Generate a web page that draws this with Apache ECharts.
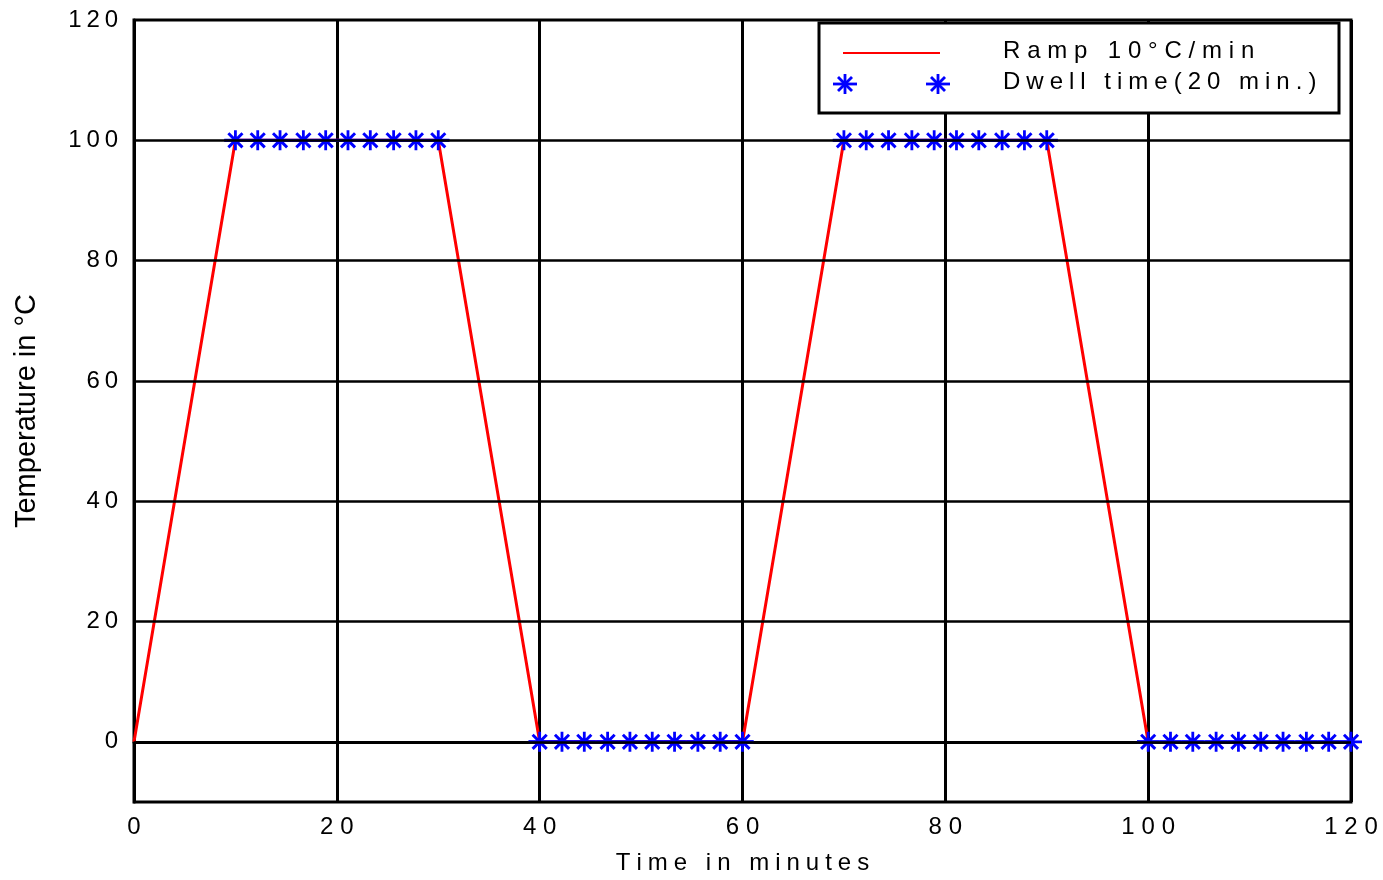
<!DOCTYPE html>
<html>
<head>
<meta charset="utf-8">
<script src="https://cdn.jsdelivr.net/npm/echarts@6/dist/echarts.min.js"></script>
<style>
  html, body { margin: 0; background: #fff; }
  #chart { width: 1383px; height: 880px; }
</style>
</head>
<body>
<div id="chart"></div>
<script>
// ramp (red) corner points: time in minutes / temperature
const rampTime = [0, 10, 30, 40, 60, 70, 90, 100];
const rampTemp = [0, 100, 100, 0, 0, 100, 100, 0];

// dwell segments (blue stars)
const dwellTemp = [100, 0, 100, 0];
const dwellStars = [
  [10, 12.2, 14.4, 16.7, 18.9, 21.1, 23.3, 25.6, 27.8, 30],
  [40, 42.2, 44.4, 46.7, 48.9, 51.1, 53.3, 55.6, 57.8, 60],
  [70, 72.2, 74.4, 76.7, 78.9, 81.1, 83.3, 85.6, 87.8, 90],
  [100, 102.2, 104.4, 106.7, 108.9, 111.1, 113.3, 115.6, 117.8, 120]
];
// the blue line runs a little past the first and last star
const dwellLineEnds = [[8.9, 31.1], [38.9, 61.1], [68.9, 91.1], [98.9, 121.1]];

const xTicks = [0, 20, 40, 60, 80, 100, 120];
const yTicks = [0, 20, 40, 60, 80, 100, 120];
const hGrid = [0, 20, 40, 60, 80, 100];

const legendNames = ['Ramp 10°C/min', 'Dwell time(20 min.)'];

const STAR = 'M9.6,0h2.8v20h-2.8Z M0,8.6h22v2.8h-22Z M5,1.9L19.1,16L17,18.1L2.9,4Z M17,1.9L19.1,4L5,18.1L2.9,16Z';
const FONT = '"Liberation Sans", Arial, sans-serif';

// old plot program spreads its letters out
const spread = (s, gap) => Array.from(String(s)).join(gap);
const G1 = '\u2009';
const G2 = '\u2009\u200A';
const G3 = '\u2006\u200A';

// legend star drawn from plain lines
function legendStar(cx, cy) {
  const arms = [[0, -10, 0, 10], [-12, 0, 12, 0], [-7, -7, 7, 7], [7, -7, -7, 7]];
  return arms.map(a => ({
    type: 'line', z: 101,
    shape: { x1: cx + a[0], y1: cy + a[1], x2: cx + a[2], y2: cy + a[3] },
    style: { stroke: '#0000ff', lineWidth: 2.8 }
  }));
}

const chart = echarts.init(document.getElementById('chart'));

const dwellSeries = dwellStars.map((stars, i) => {
  const t = dwellTemp[i];
  const data = [{ value: [dwellLineEnds[i][0], t], symbol: 'none' }]
    .concat(stars.map(x => [x, t]))
    .concat([{ value: [dwellLineEnds[i][1], t], symbol: 'none' }]);
  return {
    name: legendNames[1],
    type: 'line',
    data: data,
    symbol: 'path://' + STAR,
    symbolSize: [22, 20],
    showAllSymbol: true,
    clip: false,
    itemStyle: { color: '#0000ff' },
    lineStyle: { color: '#0000ff', width: 3 },
    z: 4,
    silent: true
  };
});

const option = {
  animation: false,
  backgroundColor: '#fff',
  textStyle: { fontFamily: FONT, color: '#000' },
  grid: {
    left: 134, right: 32, top: 20, bottom: 76,
    show: true, borderColor: '#000', borderWidth: 3, backgroundColor: '#fff'
  },
  xAxis: {
    type: 'value',
    min: 0, max: 120, interval: 20,
    name: spread('Time in minutes', G3),
    nameLocation: 'middle',
    nameGap: 49,
    nameTextStyle: { fontSize: 24, color: '#000', fontFamily: FONT },
    axisLine: { show: true, lineStyle: { color: '#000', width: 3 } },
    axisTick: { show: false },
    axisLabel: {
      margin: 13, fontSize: 24, color: '#000', fontFamily: FONT,
      formatter: v => xTicks.indexOf(v) >= 0 ? spread(v, G2) : ''
    },
    splitLine: { show: true, lineStyle: { color: '#000', width: 3 } }
  },
  yAxis: {
    type: 'value',
    min: -10, max: 120, interval: 10,
    name: 'Temperature in °C',
    nameLocation: 'middle',
    nameGap: 93,
    nameTextStyle: { fontSize: 29, color: '#000', fontFamily: FONT },
    axisLine: { show: true, lineStyle: { color: '#000', width: 3 } },
    axisTick: { show: false },
    axisLabel: {
      margin: 16, fontSize: 24, color: '#000', fontFamily: FONT,
      formatter: v => yTicks.indexOf(v) >= 0 ? spread(v, G1) : ''
    },
    splitLine: { show: false }
  },
  series: [
    {
      type: 'line',
      data: [],
      z: 1,
      silent: true,
      markLine: {
        silent: true,
        symbol: ['none', 'none'],
        label: { show: false },
        lineStyle: { color: '#000', width: 2.6, type: 'solid' },
        data: hGrid.map(v => ({ yAxis: v }))
      }
    },
    {
      name: legendNames[0],
      type: 'line',
      data: rampTime.map((t, i) => [t, rampTemp[i]]),
      symbol: 'none',
      lineStyle: { color: '#ff0000', width: 3 },
      z: 3,
      silent: true
    }
  ].concat(dwellSeries),
  graphic: [
    {
      type: 'rect', z: 100,
      shape: { x: 819, y: 23, width: 520, height: 90 },
      style: { fill: '#fff', stroke: '#000', lineWidth: 3 }
    },
    {
      type: 'line', z: 101,
      shape: { x1: 843, y1: 53, x2: 940, y2: 53 },
      style: { stroke: '#ff0000', lineWidth: 2.2 }
    }
  ].concat(legendStar(845, 84), legendStar(938, 84), [
    {
      type: 'text', z: 101, x: 1003, y: 51,
      style: { text: spread(legendNames[0], G2), font: '24px ' + FONT, fill: '#000', verticalAlign: 'middle' }
    },
    {
      type: 'text', z: 101, x: 1003, y: 82,
      style: { text: spread(legendNames[1], G3), font: '24px ' + FONT, fill: '#000', verticalAlign: 'middle' }
    }
  ])
};

chart.setOption(option);
</script>
</body>
</html>
